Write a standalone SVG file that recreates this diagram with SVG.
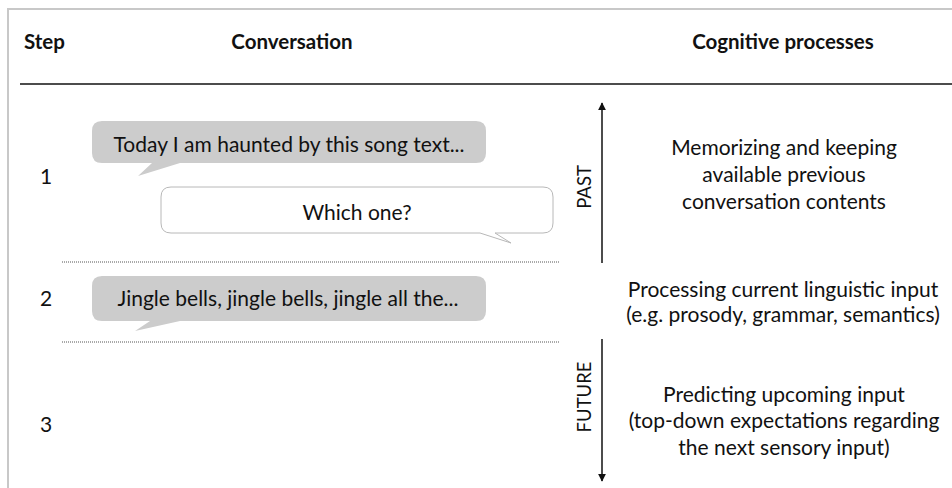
<svg xmlns="http://www.w3.org/2000/svg" width="952" height="488" viewBox="0 0 952 488">
<defs>
<style>
text{font-family:Lato,"Open Sans","Liberation Sans",sans-serif;fill:#111}
.h{font-weight:bold;font-size:20.5px}
.t{font-size:21px}
.v{font-size:18.5px}
.c{text-anchor:middle}
.gray{fill:#cccccc;stroke:none}
.white{fill:#ffffff;stroke:#b8b8b8;stroke-width:1}
.dot{stroke:#555;stroke-width:1;stroke-dasharray:1 1}
.arr{stroke:#111;stroke-width:1.5;fill:none}
</style>
<marker id="ah" viewBox="0 0 10 10" refX="9" refY="5" markerWidth="8" markerHeight="8" markerUnits="userSpaceOnUse" orient="auto"><path d="M0 0 L10 5 L0 10 Z" fill="#111"/></marker>
</defs>
<rect width="952" height="488" fill="#fff"/>
<g id="frame">
<path d="M8 488 V9 H952" fill="none" stroke="#c8c8c8" stroke-width="2"/>
<line x1="20" y1="84" x2="952" y2="84" stroke="#111" stroke-width="1.5"/>
</g>
<g id="header">
<text class="h" x="24" y="49">Step</text>
<text class="h c" x="292" y="49">Conversation</text>
<text class="h c" x="783" y="49">Cognitive processes</text>
</g>
<g id="steps">
<text class="t" x="40" y="184">1</text>
<text class="t" x="40" y="306">2</text>
<text class="t" x="40" y="432">3</text>
</g>
<g id="bubble1">
<path class="gray" d="M102 121 H476 Q486 121 486 131 V153 Q486 163 476 163 H180 L138 176 L152 163 H102 Q92 163 92 153 V131 Q92 121 102 121 Z"/>
<text class="t c" x="289" y="152">Today I am haunted by this song text...</text>
</g>
<g id="bubble2">
<path class="white" d="M171 187 H543 Q553 187 553 197 V223 Q553 233 543 233 H495 L511 243 L480 233 H171 Q161 233 161 223 V197 Q161 187 171 187 Z"/>
<text class="t c" x="357" y="220">Which one?</text>
</g>
<g id="bubble3">
<path class="gray" d="M102 276 H476 Q486 276 486 286 V311 Q486 321 476 321 H180 L135 331 L150 321 H102 Q92 321 92 311 V286 Q92 276 102 276 Z"/>
<text class="t c" x="288" y="306">Jingle bells, jingle bells, jingle all the...</text>
</g>
<g id="connectors">
<line class="dot" x1="62" y1="262" x2="560" y2="262"/>
<line class="dot" x1="62" y1="342" x2="560" y2="342"/>
<line class="arr" x1="602" y1="263" x2="602" y2="103" marker-end="url(#ah)"/>
<line class="arr" x1="602" y1="339" x2="602" y2="481" marker-end="url(#ah)"/>
</g>
<g id="labels">
<text class="v c" transform="translate(591 187) rotate(-90)">PAST</text>
<text class="v c" transform="translate(591 397) rotate(-90)">FUTURE</text>
</g>
<g id="processes">
<text class="t c" x="784" y="155">Memorizing and keeping</text>
<text class="t c" x="784" y="182">available previous</text>
<text class="t c" x="784" y="209">conversation contents</text>
<text class="t c" x="783" y="297">Processing current linguistic input</text>
<text class="t c" x="783" y="322">(e.g. prosody, grammar, semantics)</text>
<text class="t c" x="784" y="402">Predicting upcoming input</text>
<text class="t c" x="784" y="428">(top-down expectations regarding</text>
<text class="t c" x="784" y="455">the next sensory input)</text>
</g>
</svg>
